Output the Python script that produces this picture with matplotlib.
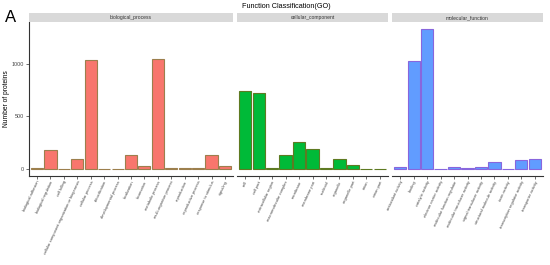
import matplotlib
matplotlib.use('Agg')
import matplotlib.pyplot as plt

plt.rcParams['font.family'] = ['Liberation Sans', 'DejaVu Sans']

# GO level-2 terms and protein counts
bp_terms = ['biological adhesion', 'biological regulation', 'cell killing',
            'cellular component organization or biogenesis', 'cellular process',
            'detoxification', 'developmental process', 'localization', 'locomotion',
            'metabolic process', 'multi-organism process', 'reproduction',
            'reproductive process', 'response to stimulus', 'signaling']
bp_counts = [6, 182, 3, 94, 1040, 5, 3, 132, 25, 1045, 10, 6, 6, 132, 25]

cc_terms = ['cell', 'cell part', 'extracellular region', 'macromolecular complex',
            'membrane', 'membrane part', 'nucleoid', 'organelle', 'organelle part',
            'virion', 'virion part']
cc_counts = [745, 724, 12, 137, 254, 190, 8, 92, 35, 3, 3]

mf_terms = ['antioxidant activity', 'binding', 'catalytic activity',
            'electron carrier activity', 'molecular function regulator',
            'molecular transducer activity', 'signal transducer activity',
            'structural molecule activity', 'toxin activity',
            'transcription regulator activity', 'transporter activity']
mf_counts = [16, 1030, 1330, 3, 16, 10, 22, 70, 3, 83, 95]

W, H = 550, 265
fig = plt.figure(figsize=(W / 100, H / 100), dpi=100)


def px_axes(x0, x1, y0, y1):
    return fig.add_axes([x0 / W, 1 - y1 / H, (x1 - x0) / W, (y1 - y0) / H])


panels = [
    ('biological_process', bp_terms, bp_counts, '#F8766D', '#9C7F4D', 29, 233),
    ('cellular_component', cc_terms, cc_counts, '#00BA38', '#5E7A22', 237, 388),
    ('molecular_function', mf_terms, mf_counts, '#619CFF', '#8866DD', 392, 543),
]

for i, (name, terms, counts, fill, edge, x0, x1) in enumerate(panels):
    ax = px_axes(x0, x1, 22, 176)
    n = len(terms)
    ax.bar(range(n), counts, width=0.9, color=fill, edgecolor=edge, linewidth=0.8)
    ax.set_xlim(-0.6, n - 0.4)
    ax.set_ylim(-66, 1397)
    for s in ['top', 'right']:
        ax.spines[s].set_visible(False)
    ax.spines['bottom'].set_linewidth(0.8)
    ax.spines['bottom'].set_color('#333333')
    ax.set_xticks(range(n))
    ax.set_xticklabels(terms, rotation=65, ha='right', va='top',
                       rotation_mode='anchor', fontsize=2.9, color='#444444')
    ax.tick_params(axis='x', length=2, width=0.5, pad=1, color='#333333')
    if i == 0:
        ax.spines['left'].set_linewidth(0.8)
        ax.spines['left'].set_color('#333333')
        ax.set_yticks([0, 500, 1000])
        ax.tick_params(axis='y', length=2, width=0.5, pad=1.5,
                       labelsize=3.9, color='#333333', labelcolor='#444444')
        ax.set_ylabel('Number of proteins', fontsize=4.8, labelpad=1.5)
    else:
        ax.spines['left'].set_visible(False)
        ax.set_yticks([])

    strip = px_axes(x0, x1, 13, 22)
    strip.set_facecolor('#D9D9D9')
    strip.set_xticks([])
    strip.set_yticks([])
    for s in strip.spines.values():
        s.set_visible(False)
    strip.text(0.5, 0.5, name, ha='center', va='center', fontsize=3.6,
               color='#333333', transform=strip.transAxes)

fig.text(286 / W, 1 - 6 / H, 'Function Classification(GO)', ha='center',
         va='center', fontsize=5.2)
fig.text(5 / W, 1 - 18 / H, 'A', ha='left', va='center', fontsize=12)

fig.savefig('out.png', dpi=100)
